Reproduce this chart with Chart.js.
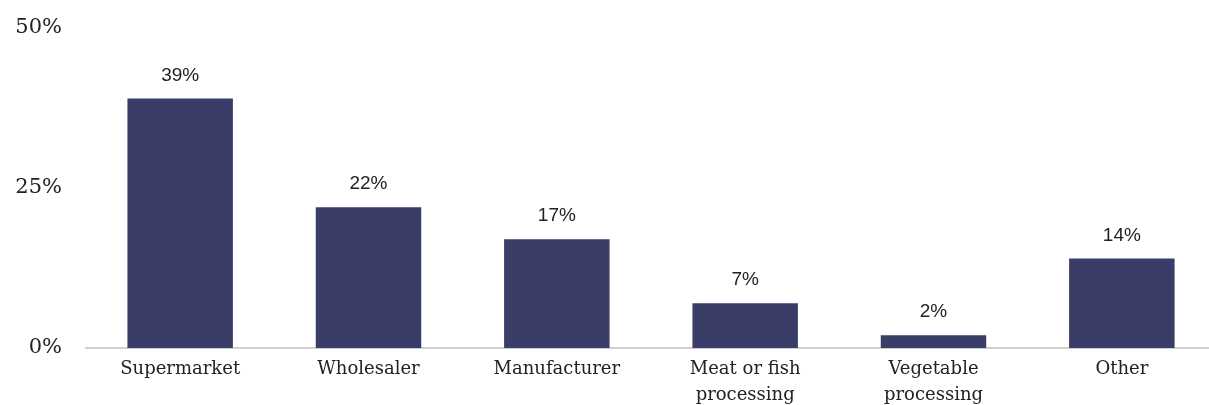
<!DOCTYPE html>
<html>
<head>
<meta charset="utf-8">
<script src="https://cdn.jsdelivr.net/npm/chart.js@4.4.1/dist/chart.umd.min.js"></script>
<style>
    html, body { margin: 0; padding: 0; background: #fff; overflow: hidden; }
    #wrap { width: 1216px; height: 405px; }
</style>
</head>
<body>
<div id="wrap"><canvas id="chart" width="1216" height="405"></canvas></div>
<script>
// Chart data
const categories = ['Supermarket', 'Wholesaler', 'Manufacturer', ['Meat or fish', 'processing'], ['Vegetable', 'processing'], 'Other'];
const shares = [39, 22, 17, 7, 2, 14];
const yTicks = [0, 25, 50];

// Draw the value above each bar
const valueLabels = {
    id: 'valueLabels',
    afterDatasetsDraw(chart) {
        const ctx = chart.ctx;
        const meta = chart.getDatasetMeta(0);
        ctx.save();
        ctx.font = '19px "Liberation Sans", Arial, sans-serif';
        ctx.fillStyle = '#222';
        ctx.textAlign = 'center';
        ctx.textBaseline = 'middle';
        meta.data.forEach(function(bar, i) {
            ctx.fillText(shares[i] + '%', bar.x, bar.y - 23);
        });
        ctx.restore();
    }
};

new Chart(document.getElementById('chart').getContext('2d'), {
    type: 'bar',
    data: {
        labels: categories,
        datasets: [{
            data: shares,
            backgroundColor: '#3a3d68',
            barPercentage: 0.56,
            categoryPercentage: 1
        }]
    },
    options: {
        responsive: false,
        animation: false,
        layout: { padding: { top: 28, right: 0, left: 0, bottom: 0 } },
        plugins: {
            legend: { display: false },
            tooltip: { enabled: false }
        },
        scales: {
            x: {
                grid: { display: false, drawTicks: false },
                border: { display: true, color: '#d0d0d0', width: 2 },
                ticks: {
                    color: '#222',
                    padding: 8,
                    maxRotation: 0,
                    autoSkip: false,
                    font: { family: '"DejaVu Serif", "Liberation Serif", serif', size: 18, lineHeight: 1.45 }
                },
                afterFit(scale) { scale.height = 57; }
            },
            y: {
                min: 0,
                max: 50,
                grid: { display: false, drawTicks: false },
                border: { display: false },
                afterBuildTicks(scale) {
                    scale.ticks = yTicks.map(function(v) { return { value: v }; });
                },
                ticks: {
                    color: '#222',
                    padding: 24,
                    font: { family: '"DejaVu Serif", "Liberation Serif", serif', size: 21 },
                    callback: function(v) { return v + '%'; }
                },
                afterFit(scale) {
                    scale.width = 86;
                    scale.paddingTop = 0;
                    scale.paddingBottom = 0;
                }
            }
        }
    },
    plugins: [valueLabels]
});
</script>
</body>
</html>
